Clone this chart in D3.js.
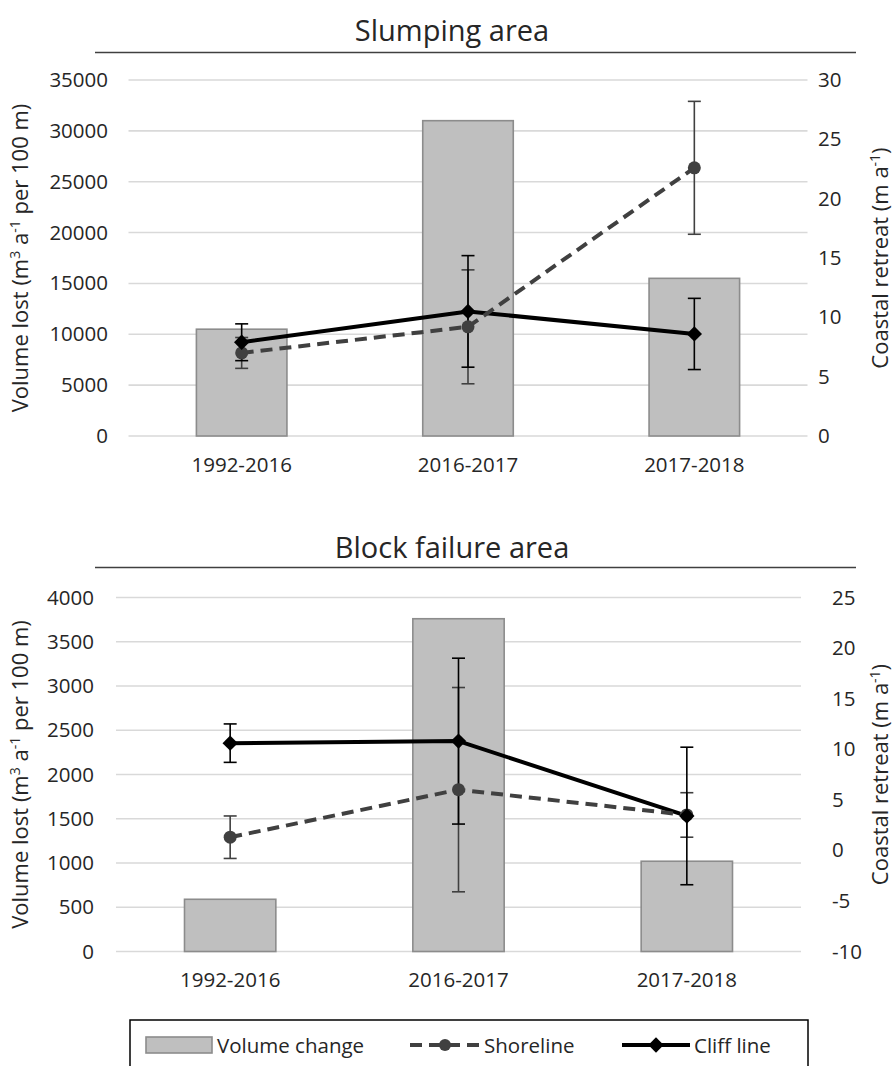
<!DOCTYPE html>
<html>
<head>
<meta charset="utf-8">
<script src="https://cdn.jsdelivr.net/npm/d3@7"></script>
<style>
  body { margin: 0; background: #fff; }
  svg text { font-family: "Open Sans", sans-serif; fill: #262626; }
</style>
</head>
<body>
<svg id="chart" width="896" height="1066"></svg>
<script>
// Data
const categories = ['1992-2016', '2016-2017', '2017-2018'];

const slumpVolume = [10500, 31000, 15500];
const slumpShore = [7.0, 9.2, 22.6];
const slumpShoreErr = [1.3, 4.8, 5.6];
const slumpCliff = [7.9, 10.5, 8.6];
const slumpCliffErr = [1.55, 4.7, 3.0];

const blockVolume = [590, 3760, 1020];
const blockShore = [1.3, 6.0, 3.5];
const blockShoreErr = [2.1, 10.1, 2.2];
const blockCliff = [10.6, 10.8, 3.4];
const blockCliffErr = [1.9, 8.2, 6.8];

const slumpLeftTicks = [0, 5000, 10000, 15000, 20000, 25000, 30000, 35000];
const slumpRightTicks = [0, 5, 10, 15, 20, 25, 30];
const blockLeftTicks = [0, 500, 1000, 1500, 2000, 2500, 3000, 3500, 4000];
const blockRightTicks = [-10, -5, 0, 5, 10, 15, 20, 25];

const legendLabels = ['Volume change', 'Shoreline', 'Cliff line'];

const svg = d3.select('#chart');
const shoreColor = '#404040';
const diamond = d3.symbol().type(d3.symbolDiamond2 || d3.symbolDiamond).size(150);

function drawPanel(p) {
    const g = svg.append('g');

    // Title and rule under it
    g.append('text')
        .attr('x', 452).attr('y', p.titleY)
        .attr('text-anchor', 'middle')
        .style('font-size', '29px')
        .text(p.title);
    g.append('line')
        .attr('x1', 95).attr('x2', 856)
        .attr('y1', p.ruleY).attr('y2', p.ruleY)
        .attr('stroke', '#404040').attr('stroke-width', 1.5);

    const x = d3.scaleBand()
        .domain(categories)
        .range([p.left, p.right])
        .paddingInner(0.6)
        .paddingOuter(0.3);

    const yL = d3.scaleLinear().domain(p.leftDomain).range([p.bottom, p.top]);
    const yR = d3.scaleLinear().domain(p.rightDomain).range([p.bottom, p.top]);

    // Gridlines
    g.selectAll('.grid')
        .data(p.leftTicks)
        .enter().append('line')
        .attr('x1', p.left).attr('x2', p.right)
        .attr('y1', d => yL(d)).attr('y2', d => yL(d))
        .attr('stroke', '#d9d9d9').attr('stroke-width', 1.6);

    // Axes
    const axL = g.append('g')
        .attr('transform', `translate(${p.leftLabelX},0)`)
        .call(d3.axisLeft(yL).tickValues(p.leftTicks).tickSize(0).tickPadding(0).tickFormat(d3.format('d')));
    const axR = g.append('g')
        .attr('transform', `translate(${p.rightLabelX},0)`)
        .call(d3.axisRight(yR).tickValues(p.rightTicks).tickSize(0).tickPadding(0).tickFormat(d3.format('d')));
    const axB = g.append('g')
        .attr('transform', `translate(0,${p.bottom})`)
        .call(d3.axisBottom(x).tickSize(0).tickPadding(0));
    [axL, axR, axB].forEach(a => {
        a.select('.domain').remove();
        a.selectAll('text')
            .style('font-family', '"Open Sans", sans-serif')
            .style('font-size', '20.5px')
            .attr('fill', '#262626');
    });
    axR.selectAll('text').text(d => d < 0 ? '-' + Math.abs(d) : d);
    axB.selectAll('text').attr('dy', '1.75em');

    // Bars
    g.selectAll('.bar')
        .data(p.volume)
        .enter().append('rect')
        .attr('x', (d, i) => x(categories[i]))
        .attr('y', d => yL(d))
        .attr('width', x.bandwidth())
        .attr('height', d => yL(0) - yL(d))
        .attr('fill', '#bfbfbf')
        .attr('stroke', '#8c8c8c')
        .attr('stroke-width', 1.6);

    const cx = c => x(c) + x.bandwidth() / 2;
    const lineR = d3.line().x((d, i) => cx(categories[i])).y(d => yR(d));

    // Lines
    g.append('path')
        .attr('d', lineR(p.cliff))
        .attr('fill', 'none').attr('stroke', '#000').attr('stroke-width', 4)
        .attr('stroke-linejoin', 'round');
    g.append('path')
        .attr('d', lineR(p.shore))
        .attr('fill', 'none').attr('stroke', shoreColor).attr('stroke-width', 4)
        .attr('stroke-dasharray', '12,7');

    // Error bars
    function errorBars(vals, errs, color) {
        const eg = g.append('g').attr('stroke', color).attr('stroke-width', 1.6);
        vals.forEach((v, i) => {
            const xc = cx(categories[i]);
            const y1 = yR(v + errs[i]), y0 = yR(v - errs[i]);
            eg.append('line').attr('x1', xc).attr('x2', xc).attr('y1', y1).attr('y2', y0);
            eg.append('line').attr('x1', xc - 6.5).attr('x2', xc + 6.5).attr('y1', y1).attr('y2', y1);
            eg.append('line').attr('x1', xc - 6.5).attr('x2', xc + 6.5).attr('y1', y0).attr('y2', y0);
        });
    }
    errorBars(p.shore, p.shoreErr, shoreColor);
    errorBars(p.cliff, p.cliffErr, '#000');

    // Markers
    g.selectAll('.shore-pt')
        .data(p.shore)
        .enter().append('circle')
        .attr('cx', (d, i) => cx(categories[i]))
        .attr('cy', d => yR(d))
        .attr('r', 6.5)
        .attr('fill', shoreColor);
    g.selectAll('.cliff-pt')
        .data(p.cliff)
        .enter().append('path')
        .attr('d', diamond)
        .attr('transform', (d, i) => `translate(${cx(categories[i])},${yR(d)})`)
        .attr('fill', '#000');

    // Axis titles
    const mid = (p.top + p.bottom) / 2;
    const lt = g.append('text')
        .attr('transform', `translate(28,${mid}) rotate(-90)`)
        .attr('text-anchor', 'middle')
        .style('font-size', '22px');
    lt.append('tspan').text('Volume lost (m');
    lt.append('tspan').attr('dy', -8).style('font-size', '14px').text('3');
    lt.append('tspan').attr('dy', 8).text(' a');
    lt.append('tspan').attr('dy', -8).style('font-size', '14px').text('-1');
    lt.append('tspan').attr('dy', 8).text(' per 100 m)');

    const rt = g.append('text')
        .attr('transform', `translate(${p.rightTitleX},${mid}) rotate(-90)`)
        .attr('text-anchor', 'middle')
        .style('font-size', '22px');
    rt.append('tspan').text('Coastal retreat (m a');
    rt.append('tspan').attr('dy', -8).style('font-size', '14px').text('-1');
    rt.append('tspan').attr('dy', 8).text(')');
}

drawPanel({
    title: 'Slumping area', titleY: 41, ruleY: 52.5,
    left: 128.5, right: 807.5, top: 80, bottom: 436,
    leftDomain: [0, 35000], rightDomain: [0, 30],
    leftTicks: slumpLeftTicks, rightTicks: slumpRightTicks,
    leftLabelX: 108, rightLabelX: 818, rightTitleX: 888,
    volume: slumpVolume, shore: slumpShore, shoreErr: slumpShoreErr,
    cliff: slumpCliff, cliffErr: slumpCliffErr
});

drawPanel({
    title: 'Block failure area', titleY: 558, ruleY: 567.5,
    left: 116, right: 801, top: 597.5, bottom: 951.5,
    leftDomain: [0, 4000], rightDomain: [-10, 25],
    leftTicks: blockLeftTicks, rightTicks: blockRightTicks,
    leftLabelX: 94, rightLabelX: 832, rightTitleX: 888,
    volume: blockVolume, shore: blockShore, shoreErr: blockShoreErr,
    cliff: blockCliff, cliffErr: blockCliffErr
});

// Legend
const lg = svg.append('g');
lg.append('rect')
    .attr('x', 130).attr('y', 1020).attr('width', 678).attr('height', 60)
    .attr('fill', '#fff').attr('stroke', '#000').attr('stroke-width', 1.5);
lg.append('rect')
    .attr('x', 146).attr('y', 1037).attr('width', 66).attr('height', 16)
    .attr('fill', '#bfbfbf').attr('stroke', '#8c8c8c').attr('stroke-width', 1.6);
lg.append('line')
    .attr('x1', 410).attr('x2', 480).attr('y1', 1045).attr('y2', 1045)
    .attr('stroke', shoreColor).attr('stroke-width', 4).attr('stroke-dasharray', '12,7');
lg.append('circle').attr('cx', 445).attr('cy', 1045).attr('r', 6).attr('fill', shoreColor);
lg.append('line')
    .attr('x1', 622).attr('x2', 690).attr('y1', 1045).attr('y2', 1045)
    .attr('stroke', '#000').attr('stroke-width', 4);
lg.append('path').attr('d', diamond).attr('transform', 'translate(656,1045)').attr('fill', '#000');
lg.selectAll('.legend-text')
    .data(legendLabels)
    .enter().append('text')
    .attr('x', (d, i) => [217, 484, 694][i])
    .attr('y', 1053)
    .style('font-size', '20.5px')
    .text(d => d);
</script>
</body>
</html>
